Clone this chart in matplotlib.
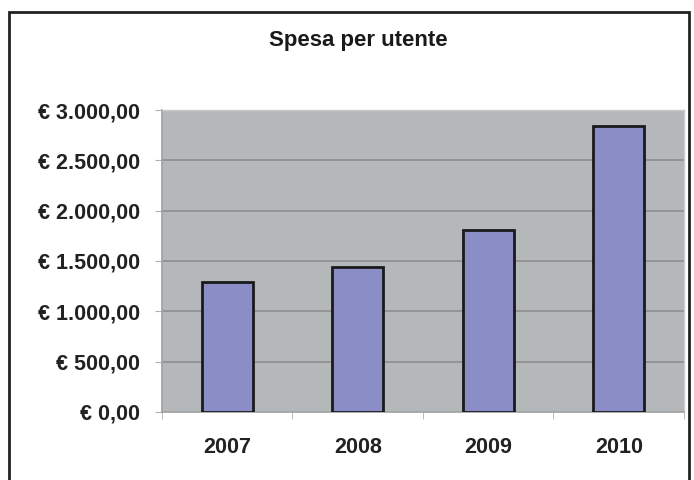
import matplotlib
matplotlib.use("Agg")
from matplotlib import pyplot as plt
from matplotlib.patches import Rectangle
from matplotlib.ticker import FixedLocator

# dati
anni = ["2007", "2008", "2009", "2010"]
spesa = [1293, 1442, 1807, 2841]
y_ticks = [0, 500, 1000, 1500, 2000, 2500, 3000]
y_labels = ["€ 0,00", "€ 500,00", "€ 1.000,00", "€ 1.500,00",
            "€ 2.000,00", "€ 2.500,00", "€ 3.000,00"]

plt.rcParams["font.family"] = ["Liberation Sans", "DejaVu Sans"]

fig = plt.figure(figsize=(6.94, 4.80), dpi=100)
ax = fig.add_axes([0.2334, 0.1417, 0.7522, 0.6291])
ax.set_facecolor("#b5b8bb")

# griglia orizzontale
for y in y_ticks[1:]:
    ax.axhline(y, color="#8f9194", linewidth=1.3, zorder=1)

x = range(len(anni))
ax.bar(x, spesa, width=0.39, color="#8b8ec6", edgecolor="#1a1a1a",
       linewidth=2.0, zorder=3)

ax.set_xlim(-0.5, len(anni) - 0.5)
ax.set_ylim(0, 3000)
ax.set_yticks(y_ticks)
ax.set_yticklabels(y_labels, fontsize=15.5, fontweight="bold")
ax.set_xticks(list(x))
ax.set_xticklabels(anni, fontsize=15.5, fontweight="bold")
ax.xaxis.set_minor_locator(FixedLocator([-0.5, 0.5, 1.5, 2.5, 3.5]))
ax.tick_params(axis="x", which="major", length=0, pad=18, colors="#222222")
ax.tick_params(axis="x", which="minor", length=5, color="#b0b0b0")
ax.tick_params(axis="y", length=5, pad=11, colors="#222222")
ax.tick_params(axis="y", color="#b0b0b0")

for s in ["top", "right"]:
    ax.spines[s].set_color("#c8cacc")
    ax.spines[s].set_linewidth(1.0)
for s in ["left", "bottom"]:
    ax.spines[s].set_color("#a0a0a0")
    ax.spines[s].set_linewidth(1.2)

fig.text(0.5166, 0.9146, "Spesa per utente", ha="center", va="center",
         fontsize=16, fontweight="bold", color="#1a1a1a")

# cornice esterna
fig.patches.append(Rectangle((9 / 694, -0.05), 680 / 694, 1 - 12 / 480 + 0.05,
                             transform=fig.transFigure, fill=False,
                             edgecolor="#222222", linewidth=2))

fig.savefig("out.png", dpi=100)
